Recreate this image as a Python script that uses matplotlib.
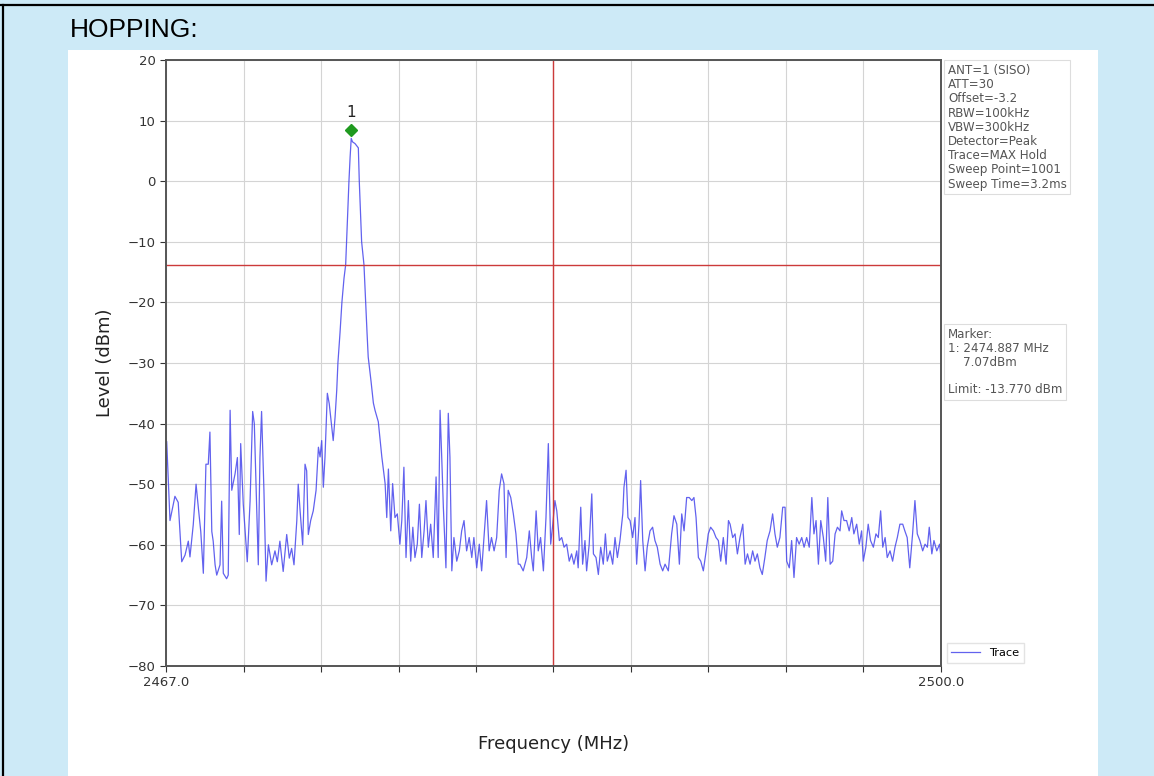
import matplotlib
matplotlib.use("Agg")
import matplotlib.pyplot as plt
import numpy as np
from matplotlib.lines import Line2D
from matplotlib.patches import Rectangle

# sweep: offset from start frequency (MHz) and level (dBm)
START_MHZ = 2467.0
STOP_MHZ = 2500.0
offset_mhz = [
    0.03, 0.17, 0.38, 0.52, 0.67, 0.81, 0.95, 1.02, 1.16, 1.28, 1.38, 1.48, 1.59, 1.70, 1.80,
    1.87, 1.95, 2.01, 2.09, 2.16, 2.30, 2.37, 2.44, 2.58, 2.65, 2.73, 2.80, 2.94, 3.04, 3.12,
    3.18, 3.29, 3.46, 3.58, 3.69, 3.76, 3.83, 3.93, 4.00, 4.07, 4.17, 4.26, 4.36, 4.50, 4.64,
    4.74, 4.85, 4.99, 5.14, 5.25, 5.35, 5.45, 5.57, 5.63, 5.71, 5.82, 5.92, 5.99, 6.06, 6.16,
    6.27, 6.39, 6.49, 6.56, 6.63, 6.70, 6.77, 6.87, 6.95, 7.06, 7.12, 7.20, 7.27, 7.32, 7.41,
    7.49, 7.58, 7.65, 7.69, 7.75, 7.79, 7.84, 7.887, 7.94, 8.05, 8.13, 8.19, 8.23, 8.28, 8.33,
    8.43, 8.50, 8.56, 8.61, 8.73, 8.83, 8.90, 9.04, 9.19, 9.33, 9.40, 9.47, 9.57, 9.65, 9.75,
    9.85, 9.96, 10.04, 10.13, 10.22, 10.32, 10.42, 10.51, 10.60, 10.70, 10.79, 10.89, 10.99,
    11.07, 11.17, 11.27, 11.38, 11.50, 11.59, 11.67, 11.74, 11.81, 11.92, 12.02, 12.09, 12.17,
    12.26, 12.38, 12.49, 12.59, 12.69, 12.80, 12.91, 13.02, 13.11, 13.23, 13.34, 13.44, 13.54,
    13.65, 13.76, 13.86, 13.97, 14.08, 14.19, 14.29, 14.39, 14.48, 14.57, 14.68, 14.79, 14.90,
    15.00, 15.07, 15.21, 15.36, 15.47, 15.57, 15.64, 15.76, 15.85, 15.95, 16.07, 16.18, 16.28,
    16.38, 16.47, 16.56, 16.64, 16.75, 16.85, 16.95, 17.06, 17.17, 17.27, 17.37, 17.49, 17.55,
    17.66, 17.74, 17.84, 17.91, 18.02, 18.13, 18.20, 18.31, 18.41, 18.51, 18.62, 18.71, 18.79,
    18.91, 19.02, 19.12, 19.22, 19.33, 19.45, 19.50, 19.59, 19.67, 19.76, 19.87, 19.97, 20.04,
    20.14, 20.21, 20.30, 20.40, 20.49, 20.61, 20.72, 20.82, 20.92, 21.04, 21.15, 21.25, 21.39,
    21.53, 21.63, 21.75, 21.86, 21.96, 22.06, 22.17, 22.28, 22.39, 22.48, 22.57, 22.67, 22.77,
    22.88, 23.00, 23.09, 23.19, 23.31, 23.42, 23.52, 23.62, 23.73, 23.85, 23.95, 24.02, 24.13,
    24.23, 24.33, 24.44, 24.56, 24.66, 24.76, 24.87, 24.98, 25.08, 25.18, 25.29, 25.39, 25.50,
    25.60, 25.72, 25.83, 25.93, 26.03, 26.14, 26.26, 26.36, 26.43, 26.54, 26.64, 26.74, 26.85,
    26.96, 27.07, 27.17, 27.28, 27.39, 27.50, 27.59, 27.68, 27.78, 27.88, 27.99, 28.09, 28.18,
    28.28, 28.39, 28.49, 28.59, 28.70, 28.77, 28.87, 28.98, 29.09, 29.20, 29.29, 29.41, 29.52,
    29.62, 29.69, 29.80, 29.90, 30.00, 30.12, 30.23, 30.33, 30.43, 30.52, 30.62, 30.71, 30.83,
    30.94, 31.04, 31.14, 31.25, 31.37, 31.46, 31.56, 31.67, 31.79, 31.89, 31.99, 32.10, 32.22,
    32.32, 32.42, 32.50, 32.61, 32.70, 32.82, 32.94, 33.00,
]
level_dbm = [
    -43.0, -56.0, -52.0, -53.0, -62.8, -61.7, -59.4, -62.0, -56.7, -50.0, -54.0, -57.8, -64.7, -46.7, -46.7,
    -41.4, -57.8, -59.4, -63.3, -65.0, -63.3, -52.8, -64.7, -65.6, -65.0, -37.8, -51.0, -48.3, -45.6, -58.3,
    -43.3, -53.3, -62.8, -52.8, -38.0, -40.0, -49.4, -63.3, -45.6, -38.0, -51.0, -66.0, -60.0, -63.3, -61.0,
    -62.8, -59.4, -64.4, -58.3, -62.2, -60.6, -63.3, -56.0, -50.0, -54.4, -60.0, -46.7, -47.8, -58.3, -56.0,
    -54.4, -51.0, -43.9, -45.5, -42.8, -50.5, -45.5, -35.0, -36.7, -40.6, -42.8, -38.9, -34.5, -30.0, -25.0,
    -20.0, -16.0, -13.8, -10.0, -4.0, 0.0, 4.0, 7.07, 6.5, 6.2, 5.8, 5.5, 0.0, -5.0, -10.0,
    -13.8, -20.0, -25.0, -29.0, -33.0, -36.6, -37.8, -39.7, -45.5, -49.9, -55.5, -47.5, -57.7, -49.9, -55.5,
    -54.9, -59.9, -56.0, -47.2, -62.1, -52.7, -62.7, -57.1, -62.1, -59.9, -53.3, -62.1, -57.7,
    -52.7, -60.4, -56.6, -62.1, -48.8, -62.1, -37.8, -45.5, -53.8, -63.8, -38.3, -45.5, -64.3,
    -58.8, -62.7, -61.0, -57.7, -56.0, -61.0, -58.8, -62.1, -58.8, -63.8, -59.9, -64.3, -58.8,
    -52.7, -61.0, -58.8, -61.0, -58.8, -51.0, -48.3, -49.9, -62.1, -51.0, -52.2, -54.9, -58.2,
    -63.2, -63.2, -64.3, -62.1, -57.7, -62.1, -64.3, -54.4, -61.0, -58.8, -64.3, -55.5, -43.3,
    -59.9, -56.6, -52.7, -54.4, -59.3, -58.8, -60.4, -59.9, -62.7, -61.5, -63.2, -61.0, -63.8,
    -53.8, -63.2, -59.3, -64.3, -59.9, -51.6, -61.5, -62.1, -64.9, -60.4, -63.2, -58.2, -62.7,
    -61.0, -63.2, -58.8, -62.1, -59.3, -54.9, -50.5, -47.7, -55.5, -56.0, -58.8, -55.5, -63.2,
    -56.6, -49.4, -59.3, -64.3, -60.4, -57.7, -57.1, -59.3, -60.4, -63.2, -64.3, -63.2, -64.3,
    -58.2, -55.2, -56.6, -63.2, -54.9, -57.7, -52.2, -52.2, -52.7, -52.2, -55.5, -62.1, -62.7,
    -64.3, -61.0, -58.2, -57.1, -57.7, -58.8, -59.3, -62.7, -58.8, -63.2, -56.0, -56.6, -58.8,
    -58.2, -61.5, -58.8, -56.6, -63.2, -61.5, -63.2, -61.0, -62.7, -61.5, -63.8, -64.9, -62.1,
    -59.3, -57.7, -54.9, -58.2, -60.4, -58.8, -53.8, -53.8, -62.7, -63.8, -59.3, -65.4, -58.8,
    -59.9, -58.8, -60.4, -58.8, -60.4, -52.2, -58.2, -56.0, -63.2, -56.0, -58.8, -62.7, -52.2,
    -63.2, -62.7, -58.2, -57.1, -57.7, -54.4, -56.0, -56.0, -57.7, -55.5, -58.2, -56.6, -59.9,
    -57.7, -62.7, -60.4, -56.6, -59.3, -60.4, -58.2, -58.8, -54.4, -60.4, -58.8, -62.1, -61.0,
    -62.7, -60.4, -58.8, -56.6, -56.6, -57.7, -58.8, -63.8, -58.2, -52.7, -58.2, -59.3, -61.0,
    -59.9, -60.4, -57.1, -61.5, -59.3, -61.0, -59.9, -62.1,
]

marker_mhz = 2474.887
marker_dbm = 7.07
marker_plot_dbm = 8.5
limit_dbm = -13.770
centre_mhz = 2483.5

settings_lines = [
    "ANT=1 (SISO)", "ATT=30", "Offset=-3.2", "RBW=100kHz", "VBW=300kHz",
    "Detector=Peak", "Trace=MAX Hold", "Sweep Point=1001", "Sweep Time=3.2ms",
]

W, H = 1154, 776


def fx(px):
    return px / W


def fy(py):
    return 1 - py / H


def main():
    freq = START_MHZ + np.array(offset_mhz)
    level = np.array(level_dbm)

    fig = plt.figure(figsize=(W / 100, H / 100), dpi=100)
    fig.patch.set_facecolor("#cdeaf7")

    # white picture panel and page frame lines
    fig.add_artist(Rectangle((fx(68), 0), fx(1030), fy(50), transform=fig.transFigure,
                             facecolor="white", edgecolor="none", zorder=0))
    fig.add_artist(Line2D([0, 1], [fy(5), fy(5)], transform=fig.transFigure, color="black", lw=1.6))
    fig.add_artist(Line2D([fx(3), fx(3)], [0, fy(5)], transform=fig.transFigure, color="black", lw=1.6))
    fig.text(fx(70), fy(30), "HOPPING:", fontsize=19, family="Liberation Sans", va="center", ha="left")

    ax = fig.add_axes([fx(166), fy(666), fx(775), 606 / H])
    ax.set_xlim(START_MHZ, STOP_MHZ)
    ax.set_ylim(-80, 20)
    ax.set_yticks(np.arange(-80, 21, 10))
    xt = np.linspace(START_MHZ, STOP_MHZ, 11)
    ax.set_xticks(xt)
    ax.set_xticklabels([f"{START_MHZ:.1f}"] + [""] * 9 + [f"{STOP_MHZ:.1f}"])
    ax.grid(True, color="#d4d4d4", lw=0.8)
    ax.set_axisbelow(True)
    ax.tick_params(labelsize=9.5, colors="#333333", length=4)
    for s in ax.spines.values():
        s.set_color("#555555")
        s.set_linewidth(1.4)

    ax.plot(freq, level, color="#4646ec", lw=0.9, alpha=0.85, label="Trace")
    ax.axhline(limit_dbm, color="#cc3a3a", lw=1.0)
    ax.axvline(centre_mhz, color="#cc3a3a", lw=1.0)
    ax.plot([marker_mhz], [marker_plot_dbm], marker="D", color="#1f9a1f", ms=6, ls="none")
    ax.text(marker_mhz, marker_plot_dbm + 1.6, "1", ha="center", va="bottom", fontsize=11, color="#222222")

    ax.set_ylabel("Level (dBm)", fontsize=13, color="#222222", labelpad=10)
    ax.set_xlabel("Frequency (MHz)", fontsize=13, color="#222222", labelpad=33)

    box = dict(boxstyle="square,pad=0.3", facecolor="white", edgecolor="#dddddd", lw=0.8)
    fig.text(fx(948), fy(64), "\n".join(settings_lines), fontsize=8.6, color="#555555",
             va="top", ha="left", linespacing=1.12, bbox=box)
    marker_txt = f"Marker:\n1: {marker_mhz:.3f} MHz\n    {marker_dbm:.2f}dBm\n\nLimit: {limit_dbm:.3f} dBm"
    fig.text(fx(948), fy(328), marker_txt, fontsize=8.6, color="#555555",
             va="top", ha="left", linespacing=1.08, bbox=box)

    ax.legend(loc="lower left", bbox_to_anchor=(1.003, 0.0), fontsize=8.2, frameon=True,
              edgecolor="#dddddd", fancybox=False, handlelength=2.5, borderaxespad=0.3)

    fig.savefig("out.png", dpi=100, facecolor=fig.get_facecolor())
    plt.close(fig)


if __name__ == "__main__":
    main()
